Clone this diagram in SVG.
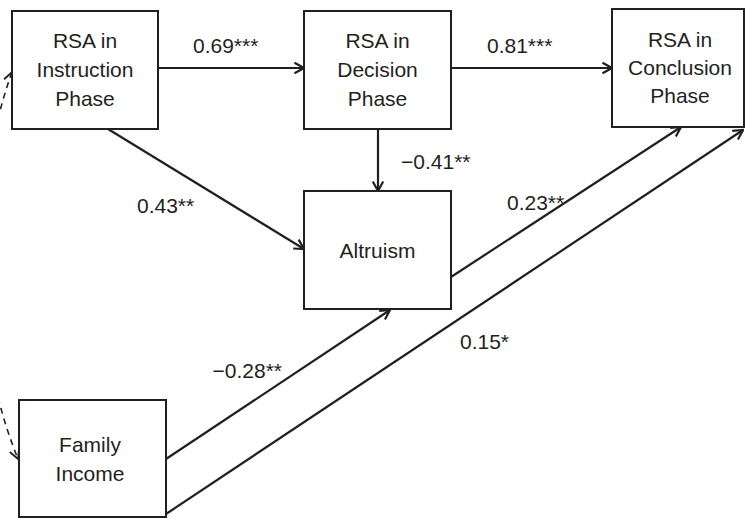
<svg xmlns="http://www.w3.org/2000/svg" width="745" height="518" viewBox="0 0 745 518">
<style>
.box{fill:#fff;stroke:#231f20;stroke-width:2}
.t{font-family:"Liberation Sans",Arial,sans-serif;font-size:21px;fill:#231f20}
.c{text-anchor:middle}
.e{stroke:#231f20;stroke-width:2.2;fill:none}
.d{stroke:#231f20;stroke-width:1.6;fill:none;stroke-dasharray:6,5}
</style>
<defs>
<marker id="ah" markerUnits="userSpaceOnUse" markerWidth="14" markerHeight="14" viewBox="0 0 14 14" refX="12.5" refY="7" orient="auto">
<path d="M3,1.8 L12.5,7 L3,12.2" fill="none" stroke="#231f20" stroke-width="2.2"/>
</marker>
<marker id="ahd" markerUnits="userSpaceOnUse" markerWidth="14" markerHeight="14" viewBox="0 0 14 14" refX="12.5" refY="7" orient="auto-start-reverse">
<path d="M3,2 L12.5,7 L3,12" fill="none" stroke="#231f20" stroke-width="1.8"/>
</marker>
</defs>
<rect width="745" height="518" fill="#fff"/>
<g id="connectors">
<line class="e" x1="158" y1="68" x2="304" y2="68" marker-end="url(#ah)"/>
<line class="e" x1="451" y1="68" x2="612" y2="68" marker-end="url(#ah)"/>
<line class="e" x1="378" y1="129" x2="378" y2="191" marker-end="url(#ah)"/>
<line class="e" x1="108" y1="129" x2="304" y2="249" marker-end="url(#ah)"/>
<line class="e" x1="451" y1="277" x2="681" y2="127" marker-end="url(#ah)"/>
<line class="e" x1="166" y1="459" x2="390" y2="310" marker-end="url(#ah)"/>
<line class="e" x1="166" y1="514" x2="743" y2="130" marker-end="url(#ah)"/>
<path class="d" d="M12,72 C-30,190 -30,340 18,459" marker-start="url(#ahd)" marker-end="url(#ahd)"/>
</g>
<g id="n-instruction">
<rect class="box" x="12" y="11" width="146" height="118"/>
<text class="t c" x="85" y="48">RSA in</text>
<text class="t c" x="85" y="77">Instruction</text>
<text class="t c" x="85" y="106">Phase</text>
</g>
<g id="n-decision">
<rect class="box" x="304" y="11" width="147" height="118"/>
<text class="t c" x="377.5" y="48">RSA in</text>
<text class="t c" x="377.5" y="77">Decision</text>
<text class="t c" x="377.5" y="106">Phase</text>
</g>
<g id="n-conclusion">
<rect class="box" x="612" y="9" width="132" height="118"/>
<text class="t c" x="680" y="47">RSA in</text>
<text class="t c" x="680" y="75">Conclusion</text>
<text class="t c" x="680" y="103">Phase</text>
</g>
<g id="n-altruism">
<rect class="box" x="304" y="191" width="147" height="118"/>
<text class="t c" x="377.5" y="258">Altruism</text>
</g>
<g id="n-income">
<rect class="box" x="19" y="400" width="147" height="117"/>
<text class="t c" x="90" y="452">Family</text>
<text class="t c" x="90" y="481">Income</text>
</g>
<g id="labels">
<text class="t" x="193" y="53">0.69***</text>
<text class="t" x="487" y="53">0.81***</text>
<text class="t" x="401" y="169">−0.41**</text>
<text class="t" x="137" y="213">0.43**</text>
<text class="t" x="507" y="210">0.23**</text>
<text class="t" x="282" y="378" text-anchor="end">−0.28**</text>
<text class="t" x="460" y="349">0.15*</text>
</g>
</svg>
